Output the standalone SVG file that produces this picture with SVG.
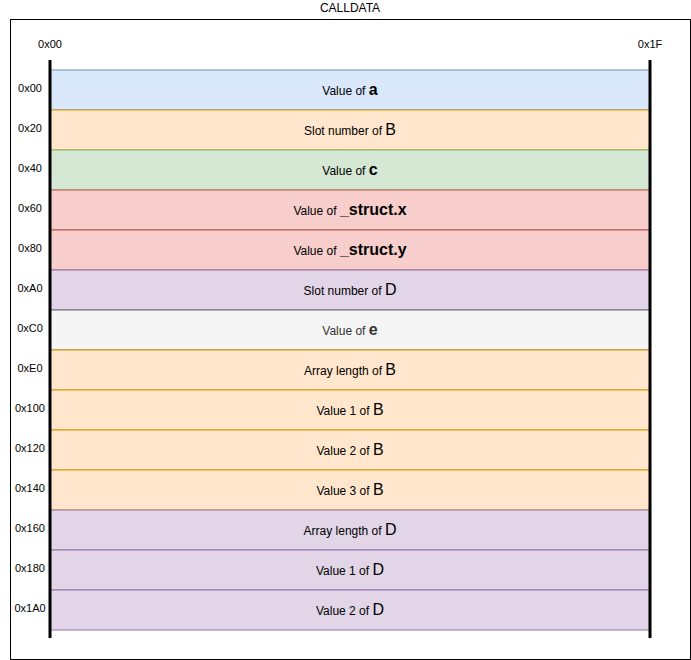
<svg xmlns="http://www.w3.org/2000/svg" width="691" height="660" viewBox="0 0 691 660">
<style>
text{font-family:"Liberation Sans",Arial,sans-serif;fill:#000}
.lbl{font-size:11px;text-anchor:middle}
.t{font-size:12px;text-anchor:middle}
.v{font-size:16px}
.b{font-weight:bold}
.blue rect{fill:#dae8fc;stroke:#6c8ebf}
.orange rect{fill:#ffe6cc;stroke:#d79b00}
.green rect{fill:#d5e8d4;stroke:#82b366}
.red rect{fill:#f8cecc;stroke:#b85450}
.purple rect{fill:#e1d5e7;stroke:#9673a6}
.gray rect{fill:#f5f5f5;stroke:#666666}
.gray text{fill:#333333}
.bar{stroke:#000;stroke-width:3}
</style>
<rect x="10.5" y="19.5" width="680" height="640" fill="#fff" stroke="#000"/>
<text class="t" x="350" y="12">CALLDATA</text>
<text class="lbl" x="50" y="48">0x00</text>
<text class="lbl" x="650" y="48">0x1F</text>
<g id="r0" class="blue"><rect x="50" y="70" width="600" height="40"/><text class="t" x="350" y="95">Value of <tspan class="v b">a</tspan></text><text class="lbl" x="30" y="92">0x00</text></g>
<g id="r1" class="orange"><rect x="50" y="110" width="600" height="40"/><text class="t" x="350" y="135">Slot number of <tspan class="v">B</tspan></text><text class="lbl" x="30" y="132">0x20</text></g>
<g id="r2" class="green"><rect x="50" y="150" width="600" height="40"/><text class="t" x="350" y="175">Value of <tspan class="v b">c</tspan></text><text class="lbl" x="30" y="172">0x40</text></g>
<g id="r3" class="red"><rect x="50" y="190" width="600" height="40"/><text class="t" x="350" y="215">Value of <tspan class="v b">_struct.x</tspan></text><text class="lbl" x="30" y="212">0x60</text></g>
<g id="r4" class="red"><rect x="50" y="230" width="600" height="40"/><text class="t" x="350" y="255">Value of <tspan class="v b">_struct.y</tspan></text><text class="lbl" x="30" y="252">0x80</text></g>
<g id="r5" class="purple"><rect x="50" y="270" width="600" height="40"/><text class="t" x="350" y="295">Slot number of <tspan class="v">D</tspan></text><text class="lbl" x="30" y="292">0xA0</text></g>
<g id="r6" class="gray"><rect x="50" y="310" width="600" height="40"/><text class="t" x="350" y="335">Value of <tspan class="v b">e</tspan></text><text class="lbl" x="30" y="332" style="fill:#000">0xC0</text></g>
<g id="r7" class="orange"><rect x="50" y="350" width="600" height="40"/><text class="t" x="350" y="375">Array length of <tspan class="v">B</tspan></text><text class="lbl" x="30" y="372">0xE0</text></g>
<g id="r8" class="orange"><rect x="50" y="390" width="600" height="40"/><text class="t" x="350" y="415">Value 1 of <tspan class="v">B</tspan></text><text class="lbl" x="30" y="412">0x100</text></g>
<g id="r9" class="orange"><rect x="50" y="430" width="600" height="40"/><text class="t" x="350" y="455">Value 2 of <tspan class="v">B</tspan></text><text class="lbl" x="30" y="452">0x120</text></g>
<g id="r10" class="orange"><rect x="50" y="470" width="600" height="40"/><text class="t" x="350" y="495">Value 3 of <tspan class="v">B</tspan></text><text class="lbl" x="30" y="492">0x140</text></g>
<g id="r11" class="purple"><rect x="50" y="510" width="600" height="40"/><text class="t" x="350" y="535">Array length of <tspan class="v">D</tspan></text><text class="lbl" x="30" y="532">0x160</text></g>
<g id="r12" class="purple"><rect x="50" y="550" width="600" height="40"/><text class="t" x="350" y="575">Value 1 of <tspan class="v">D</tspan></text><text class="lbl" x="30" y="572">0x180</text></g>
<g id="r13" class="purple"><rect x="50" y="590" width="600" height="40"/><text class="t" x="350" y="615">Value 2 of <tspan class="v">D</tspan></text><text class="lbl" x="30" y="612">0x1A0</text></g>
<g id="connectors">
<line class="bar" x1="50" y1="60" x2="50" y2="638"/>
<line class="bar" x1="650" y1="60" x2="650" y2="638"/>
</g>
</svg>
